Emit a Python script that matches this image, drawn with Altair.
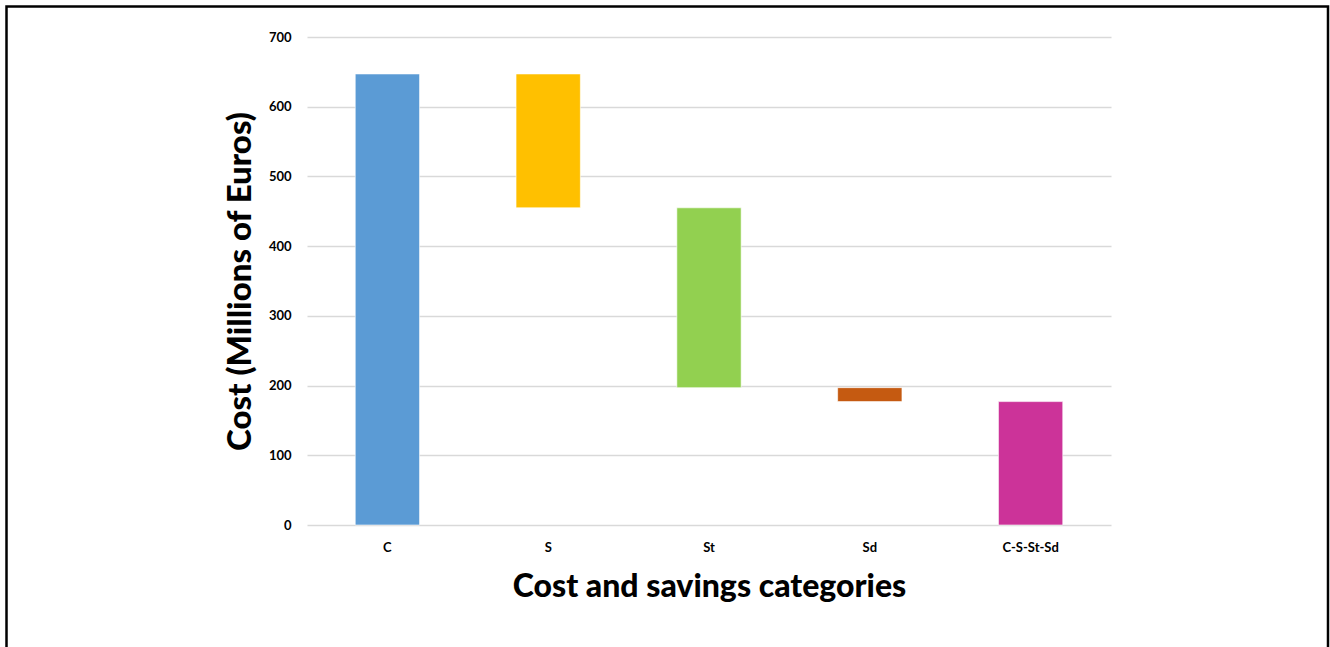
import altair as alt
import pandas as pd

# Waterfall of total cost and the three savings components (millions of euros)
categories = ["C", "S", "St", "Sd", "C-S-St-Sd"]
bar_top = [647, 647, 455, 197, 177]
bar_bottom = [0, 455, 197, 177, 0]
colors = ["#5B9BD5", "#FFC000", "#92D050", "#C55A11", "#CC3399"]
y_ticks = [0, 100, 200, 300, 400, 500, 600, 700]

FONT = "Lato"

df = pd.DataFrame({"category": categories, "top": bar_top, "bottom": bar_bottom})

bars = alt.Chart(df).mark_bar(stroke="white", strokeWidth=1, strokeOpacity=0.6).encode(
    x=alt.X(
        "category:N",
        sort=categories,
        scale=alt.Scale(paddingInner=0.6, paddingOuter=0.3),
        axis=alt.Axis(
            title="Cost and savings categories",
            labelAngle=0,
            labelFont=FONT,
            labelFontWeight="bold",
            labelFontSize=13,
            labelColor="#000000",
            labelPadding=16,
            domain=False,
            ticks=False,
            titleFont=FONT,
            titleFontSize=32,
            titleFontWeight=900,
            titleColor="#000000",
            titlePadding=17,
        ),
    ),
    y=alt.Y(
        "top:Q",
        scale=alt.Scale(domain=[0, 700], nice=False),
        axis=alt.Axis(
            title="Cost (Millions of Euros)",
            values=y_ticks,
            labelFont=FONT,
            labelFontWeight="bold",
            labelFontSize=13,
            labelColor="#000000",
            labelPadding=16,
            domain=False,
            ticks=False,
            grid=True,
            gridColor="#D9D9D9",
            gridWidth=1.5,
            titleFont=FONT,
            titleFontSize=33,
            titleFontWeight=900,
            titleColor="#000000",
            titlePadding=11,
        ),
    ),
    y2="bottom:Q",
    color=alt.Color(
        "category:N",
        scale=alt.Scale(domain=categories, range=colors),
        legend=None,
    ),
)

# Black frame around the whole figure
frame = alt.Chart(pd.DataFrame({"k": [0]})).mark_rect(
    filled=False, stroke="#000000", strokeWidth=2.5
).encode(
    x=alt.value(-300.5),
    x2=alt.value(1021),
    y=alt.value(-30.5),
    y2=alt.value(700),
)

chart = (
    alt.layer(bars, frame)
    .properties(
        width=804,
        height=488,
        autosize=alt.AutoSizeParams(type="none"),
        padding={"left": 307, "top": 37, "right": 219, "bottom": 122},
        background="white",
    )
    .configure_view(stroke=None)
)

chart.save("out.html", embed_options={"renderer": "svg", "actions": False})
